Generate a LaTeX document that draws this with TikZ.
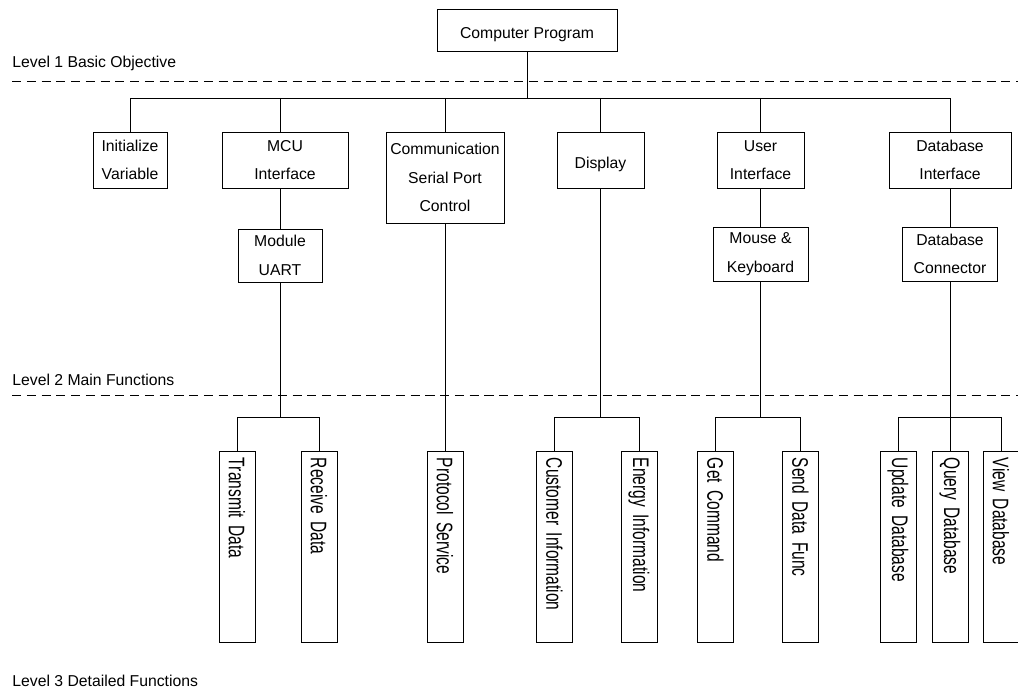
\documentclass[tikz,border=0pt]{standalone}
\usepackage{fontspec}
\setmainfont{Liberation Sans}
\newfontfamily\narrowfont{Liberation Sans}[FakeStretch=0.69]
\newcommand\leaffont{\narrowfont\fontsize{16}{18}\selectfont}
\usetikzlibrary{positioning, calc}

\begin{document}
\begin{tikzpicture}[x=0.025cm, y=-0.025cm, line width=0.6pt]
\tikzstyle{box}=[draw, inner sep=0pt, align=center, execute at begin node={\rule{0pt}{0.5cm}}, font=\fontsize{11.2}{20.3}\selectfont]
\tikzstyle{leaf}=[draw, rotate=-90, inner xsep=0.175cm, inner ysep=0pt, minimum height=0.9cm, text width=4.425cm, align=left, font=\leaffont]
\tikzstyle{level}=[anchor=base west, inner sep=0pt, font=\fontsize{11.2}{13}\selectfont]
\tikzstyle{sep}=[dash pattern=on 6.5pt off 4pt]

\useasboundingbox (0,0) rectangle (1018,694);

\node[level] (l1) at (12,68) {Level 1 Basic Objective};
\node[level] (l2) at (12,386) {Level 2 Main Functions};
\node[level] (l3) at (12,686) {Level 3 Detailed Functions};

\draw[sep] (12,81) -- (1018,81);
\draw[sep] (12,395) -- (1018,395);

\node[box, minimum width=4.5cm, minimum height=1.05cm] (prog) at (527,30) {Computer Program};

\node[box, minimum width=1.85cm, minimum height=1.4cm] (init) at (130,160) {Initialize\\Variable};
\node[box, minimum width=3.15cm, minimum height=1.4cm] (mcu) at (285,160) {MCU\\Interface};
\node[box, minimum width=2.95cm, minimum height=2.275cm] (comm) at (445,177.5) {Communication\\Serial Port\\Control};
\node[box, minimum width=2.175cm, minimum height=1.4cm] (disp) at (600.5,160) {Display};
\node[box, minimum width=2.175cm, minimum height=1.4cm] (ui) at (760.5,160) {User\\Interface};
\node[box, minimum width=3.05cm, minimum height=1.4cm] (dbi) at (950,160) {Database\\Interface};

\node[box, minimum width=2.1cm, minimum height=1.325cm] (mod) at (280,255.5) {Module\\UART};
\node[box, minimum width=2.375cm, minimum height=1.35cm] (mk) at (760.5,254) {Mouse \&\\Keyboard};
\node[box, minimum width=2.375cm, minimum height=1.35cm] (dbc) at (950,254) {Database\\Connector};

\node[leaf] (tx) at (237,546.5) {Transmit Data};
\node[leaf] (rx) at (319,546.5) {Receive Data};
\node[leaf] (prot) at (445,546.5) {Protocol Service};
\node[leaf] (cust) at (554.5,546.5) {Customer Information};
\node[leaf] (ener) at (639,546.5) {Energy Information};
\node[leaf] (getc) at (715.5,546.5) {Get Command};
\node[leaf] (send) at (800.5,546.5) {Send Data Func};
\node[leaf] (upd) at (898,546.5) {Update Database};
\node[leaf] (query) at (950,546.5) {Query Database};
\node[leaf] (view) at (1001,546.5) {View Database};

\coordinate (bus1) at (527,98);
\coordinate (bus2) at (0,417);

\draw (prog.south) -- (bus1);
\draw (init.north) |- (dbi.north |- bus1) -- (dbi.north);
\foreach \n in {comm,disp,ui}
  \draw (\n.north |- bus1) -- (\n.north);
\draw (mod.north |- bus1) -- (mod.north |- mcu.north);

\draw (mcu.south -| mod.north) -- (mod.north);
\draw (ui.south) -- (mk.north);
\draw (dbi.south) -- (dbc.north);

\draw (mod.south) -- (mod.south |- bus2);
\draw (tx.west) |- (rx.west |- bus2) -- (rx.west);
\draw (comm.south) -- (prot.west);
\draw (disp.south) -- (disp.south |- bus2);
\draw (cust.west) |- (ener.west |- bus2) -- (ener.west);
\draw (mk.south) -- (mk.south |- bus2);
\draw (getc.west) |- (send.west |- bus2) -- (send.west);
\draw (dbc.south) -- (query.west);
\draw (upd.west) |- (view.west |- bus2) -- (view.west);
\end{tikzpicture}
\end{document}
